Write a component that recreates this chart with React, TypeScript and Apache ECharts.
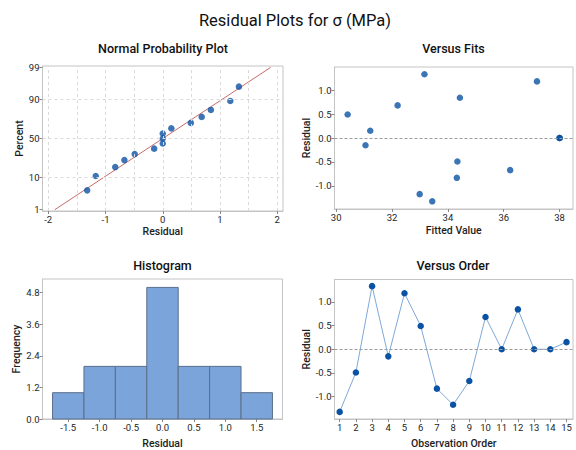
import React, { useEffect, useRef } from "react";
import * as echarts from "echarts";

// ---------------- data ----------------
const observationOrder = [1, 2, 3, 4, 5, 6, 7, 8, 9, 10, 11, 12, 13, 14, 15];
const residuals = [-1.32, -0.49, 1.33, -0.15, 1.18, 0.49, -0.83, -1.17, -0.67, 0.68, 0.0, 0.84, 0.0, 0.0, 0.15];
const fittedValues = [33.44, 34.34, 33.16, 31.05, 37.19, 30.41, 34.32, 32.99, 36.23, 32.2, 38.0, 34.43, 38.0, 38.0, 31.22];

const sortedResiduals = [-1.32, -1.17, -0.83, -0.67, -0.49, -0.15, 0.0, 0.0, 0.0, 0.15, 0.49, 0.68, 0.84, 1.18, 1.33];
const probabilityPercents = [4.5, 11.0, 17.5, 24.0, 30.5, 37.0, 43.5, 50.0, 56.5, 63.0, 69.5, 76.0, 82.5, 89.0, 95.5];
const fitLineResiduals = [-1.885, 1.885];
const fitLinePercents = [1, 99];
const percentTicks = [1, 10, 50, 90, 99];
const percentGrid = [10, 50, 90];
const probXTicks = [-2, -1, 0, 1, 2];
const probXGrid = [-2, -1.5, -1, -0.5, 0, 0.5, 1, 1.5, 2];

const binStarts = [-1.75, -1.25, -0.75, -0.25, 0.25, 0.75, 1.25];
const binEnds = [-1.25, -0.75, -0.25, 0.25, 0.75, 1.25, 1.75];
const binCounts = [1, 2, 2, 5, 2, 2, 1];
const histXTicks = [-1.5, -1.0, -0.5, 0.0, 0.5, 1.0, 1.5];
const histYTicks = [0, 1.2, 2.4, 3.6, 4.8];

const residualTicks = [-1.0, -0.5, 0.0, 0.5, 1.0];
const fitTicks = [30, 32, 34, 36, 38];

const mainTitle = "Residual Plots for σ (MPa)";
const panelTitles = ["Normal Probability Plot", "Versus Fits", "Histogram", "Versus Order"];

// ---------------- probability-scale transform ----------------
function probit(p: number): number {
  const a = [-3.969683028665376e1, 2.209460984245205e2, -2.759285104469687e2, 1.38357751867269e2, -3.066479806614716e1, 2.506628277459239];
  const b = [-5.447609879822406e1, 1.615858368580409e2, -1.556989798598866e2, 6.680131188771972e1, -1.328068155288572e1];
  const c = [-7.784894002430293e-3, -3.223964580411365e-1, -2.400758277161838, -2.549732539343734, 4.374664141464968, 2.938163982698783];
  const d = [7.784695709041462e-3, 3.224671290700398e-1, 2.445134137142996, 3.754408661907416];
  const pl = 0.02425;
  if (p < pl) {
    const q = Math.sqrt(-2 * Math.log(p));
    return (((((c[0] * q + c[1]) * q + c[2]) * q + c[3]) * q + c[4]) * q + c[5]) / ((((d[0] * q + d[1]) * q + d[2]) * q + d[3]) * q + 1);
  }
  if (p > 1 - pl) {
    const q = Math.sqrt(-2 * Math.log(1 - p));
    return -(((((c[0] * q + c[1]) * q + c[2]) * q + c[3]) * q + c[4]) * q + c[5]) / ((((d[0] * q + d[1]) * q + d[2]) * q + d[3]) * q + 1);
  }
  const q = p - 0.5;
  const r = q * q;
  return ((((((a[0] * r + a[1]) * r + a[2]) * r + a[3]) * r + a[4]) * r + a[5]) * q) / (((((b[0] * r + b[1]) * r + b[2]) * r + b[3]) * r + b[4]) * r + 1);
}
const pz = (pct: number) => probit(pct / 100);

// ---------------- styling ----------------
const FONT = "Roboto, 'Open Sans', sans-serif";
const TXT = "#1e1e1e";
const FRAME = "#c4c4c4";
const POINT = "#0a52a3";

const labelStyle = { fontFamily: FONT, fontSize: 9.5, color: TXT, margin: 3 };
const nameStyle = { fontFamily: FONT, fontSize: 10.5, fontWeight: 500 as any, color: TXT };

function baseAxis(extra: any) {
  return {
    type: "value",
    axisLine: { show: true, onZero: false, lineStyle: { color: FRAME } },
    axisTick: { show: true, length: 3, lineStyle: { color: "#888" } },
    splitLine: { show: false },
    nameLocation: "middle",
    nameTextStyle: nameStyle,
    ...extra,
  };
}

const fmt1 = (v: number) => (Math.abs(v) < 1e-9 ? "0.0" : v.toFixed(1));

function titleText(text: string, x: number, y: number, size: number, weight: number) {
  return {
    type: "text", x, y, silent: true,
    style: {
      text, textAlign: "center", textVerticalAlign: "middle",
      fontFamily: FONT, fontSize: size, fontWeight: weight, fill: "#111",
    },
  };
}

export default function App() {
  const ref = useRef<HTMLDivElement>(null);

  useEffect(() => {
    if (!ref.current) return;
    const chart = echarts.init(ref.current, null, { renderer: "svg" });

    const zTicks = percentTicks.map(pz);

    const option: any = {
      animation: false,
      backgroundColor: "#ffffff",
      textStyle: { fontFamily: FONT },
      graphic: [
        titleText(mainTitle, 295, 20, 16.5, 400),
        titleText(panelTitles[0], 163, 48, 12.5, 500),
        titleText(panelTitles[1], 453.5, 48, 12.5, 500),
        titleText(panelTitles[2], 162.5, 265.5, 12.5, 500),
        titleText(panelTitles[3], 453, 265.5, 12.5, 500),
      ],
      grid: [
        { left: 42.5, top: 66, width: 240.5, height: 145, show: true, borderColor: FRAME, borderWidth: 1, backgroundColor: "transparent" },
        { left: 334.5, top: 67, width: 238.5, height: 142, show: true, borderColor: FRAME, borderWidth: 1, backgroundColor: "transparent" },
        { left: 42.5, top: 279, width: 240, height: 148, show: true, borderColor: FRAME, borderWidth: 1, backgroundColor: "transparent" },
        { left: 334.5, top: 279.5, width: 238.5, height: 147, show: true, borderColor: FRAME, borderWidth: 1, backgroundColor: "transparent" },
      ],
      xAxis: [
        baseAxis({
          gridIndex: 0, min: -2.1, max: 2.1, name: "Residual", nameGap: 15,
          axisLabel: { ...labelStyle, customValues: probXTicks, formatter: (v: number) => String(Math.round(v)) },
          axisTick: { show: true, length: 3, customValues: probXTicks, lineStyle: { color: "#888" } },
        }),
        baseAxis({
          gridIndex: 1, min: 29.94, max: 38.48, name: "Fitted Value", nameGap: 16,
          axisLabel: { ...labelStyle, customValues: fitTicks, formatter: (v: number) => String(Math.round(v)) },
          axisTick: { show: true, length: 3, customValues: fitTicks, lineStyle: { color: "#888" } },
        }),
        baseAxis({
          gridIndex: 2, min: -1.91, max: 1.91, name: "Residual", nameGap: 19,
          axisLabel: { ...labelStyle, customValues: histXTicks, formatter: fmt1 },
          axisTick: { show: true, length: 3, customValues: histXTicks, lineStyle: { color: "#888" } },
        }),
        baseAxis({
          gridIndex: 3, min: 0.68, max: 15.4, name: "Observation Order", nameGap: 19,
          axisLabel: { ...labelStyle, customValues: observationOrder, formatter: (v: number) => String(Math.round(v)) },
          axisTick: { show: true, length: 3, customValues: observationOrder, lineStyle: { color: "#888" } },
        }),
      ],
      yAxis: [
        baseAxis({
          gridIndex: 0, min: -2.37, max: 2.37, name: "Percent", nameGap: 17.5,
          axisLabel: {
            ...labelStyle, customValues: zTicks,
            formatter: (v: number) => {
              let best = 0;
              zTicks.forEach((z, i) => { if (Math.abs(z - v) < Math.abs(zTicks[best] - v)) best = i; });
              return String(percentTicks[best]);
            },
          },
          axisTick: { show: true, length: 3, customValues: zTicks, lineStyle: { color: "#888" } },
        }),
        baseAxis({
          gridIndex: 1, min: -1.48, max: 1.48, name: "Residual", nameGap: 22,
          axisLabel: { ...labelStyle, customValues: residualTicks, formatter: fmt1 },
          axisTick: { show: true, length: 3, customValues: residualTicks, lineStyle: { color: "#888" } },
        }),
        baseAxis({
          gridIndex: 2, min: 0, max: 5.32, name: "Frequency", nameGap: 17.5,
          axisLabel: { ...labelStyle, customValues: histYTicks, formatter: fmt1 },
          axisTick: { show: true, length: 3, customValues: histYTicks, lineStyle: { color: "#888" } },
        }),
        baseAxis({
          gridIndex: 3, min: -1.47, max: 1.47, name: "Residual", nameGap: 22,
          axisLabel: { ...labelStyle, customValues: residualTicks, formatter: fmt1 },
          axisTick: { show: true, length: 3, customValues: residualTicks, lineStyle: { color: "#888" } },
        }),
      ],
      series: [
        // Normal probability plot: grid lines + fit line + points
        {
          type: "line", xAxisIndex: 0, yAxisIndex: 0, silent: true, symbol: "none",
          data: fitLineResiduals.map((r, i) => [r, pz(fitLinePercents[i])]),
          lineStyle: { color: "#c96a6a", width: 1 },
          markLine: {
            silent: true, symbol: "none", label: { show: false },
            lineStyle: { color: "#dadada", type: [3, 3], width: 1 },
            data: [
              ...probXGrid.map((v) => ({ xAxis: v })),
              ...percentGrid.map((p) => ({ yAxis: pz(p) })),
            ],
          },
          z: 3,
        },
        {
          type: "scatter", xAxisIndex: 0, yAxisIndex: 0, symbolSize: 6.5,
          itemStyle: { color: POINT },
          data: sortedResiduals.map((r, i) => [r, pz(probabilityPercents[i])]),
          z: 4,
        },
        // Versus fits
        {
          type: "scatter", xAxisIndex: 1, yAxisIndex: 1, symbolSize: 6.5,
          itemStyle: { color: POINT },
          data: fittedValues.map((f, i) => [f, residuals[i]]),
          markLine: {
            silent: true, symbol: "none", label: { show: false },
            lineStyle: { color: "#9c9c9c", type: [3, 2], width: 1 },
            data: [{ yAxis: 0 }],
          },
        },
        // Histogram
        {
          type: "custom", xAxisIndex: 2, yAxisIndex: 2,
          data: binStarts.map((s, i) => [s, binEnds[i], binCounts[i]]),
          encode: { x: [0, 1], y: 2 },
          renderItem: (_params: any, api: any) => {
            const p0 = api.coord([api.value(0), api.value(2)]);
            const p1 = api.coord([api.value(1), 0]);
            return {
              type: "rect",
              shape: { x: p0[0], y: p0[1], width: p1[0] - p0[0], height: p1[1] - p0[1] },
              style: { fill: "#7ba4da", stroke: "#5b6f8c", lineWidth: 1 },
            };
          },
        },
        // Versus order
        {
          type: "line", xAxisIndex: 3, yAxisIndex: 3, symbol: "circle", symbolSize: 6.5,
          data: observationOrder.map((o, i) => [o, residuals[i]]),
          lineStyle: { color: "#7ea8d8", width: 1 },
          itemStyle: { color: POINT },
          markLine: {
            silent: true, symbol: "none", label: { show: false },
            lineStyle: { color: "#9c9c9c", type: [3, 2], width: 1 },
            data: [{ yAxis: 0 }],
          },
        },
      ],
    };

    chart.setOption(option);
    return () => chart.dispose();
  }, []);

  return (
    <div
      ref={ref}
      style={{ position: "fixed", left: 0, top: 0, width: 576, height: 450, background: "#fff" }}
    />
  );
}
